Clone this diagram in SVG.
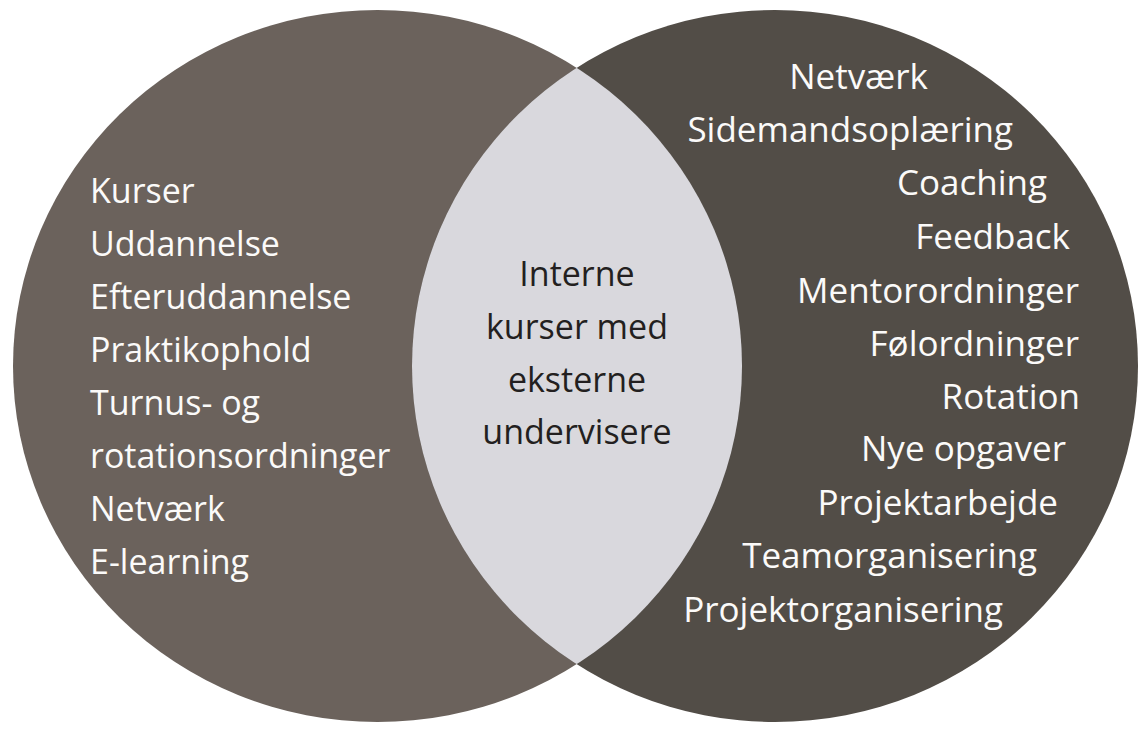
<svg xmlns="http://www.w3.org/2000/svg" width="1143" height="729" viewBox="0 0 1143 729">
<style>
text{font-family:"Open Sans","Noto Sans","Liberation Sans",sans-serif;font-size:34px}
.w{fill:#fbfaf9}
.d{fill:#231f20;text-anchor:middle}
.r{text-anchor:end}
.r text{font-size:35px}
</style>
<defs>
<clipPath id="clipL"><ellipse cx="377.5" cy="366" rx="364.5" ry="356"/></clipPath>
</defs>
<rect width="1143" height="729" fill="#ffffff"/>
<g id="left-circle">
<ellipse cx="377.5" cy="366" rx="364.5" ry="356" fill="#6b625c"/>
<g class="w">
<text x="90" y="203">Kurser</text>
<text x="90" y="256">Uddannelse</text>
<text x="90" y="309">Efteruddannelse</text>
<text x="90" y="362">Praktikophold</text>
<text x="90" y="415">Turnus- og</text>
<text x="90" y="468">rotationsordninger</text>
<text x="90" y="521">Netværk</text>
<text x="90" y="574">E-learning</text>
</g>
</g>
<g id="right-circle">
<ellipse cx="775" cy="366" rx="363" ry="356" fill="#524d47"/>
<g class="w r">
<text x="928" y="89">Netværk</text>
<text x="1013" y="142">Sidemandsoplæring</text>
<text x="1047" y="195">Coaching</text>
<text x="1070" y="249">Feedback</text>
<text x="1079" y="303">Mentorordninger</text>
<text x="1079" y="356">Følordninger</text>
<text x="1080" y="409">Rotation</text>
<text x="1066" y="461">Nye opgaver</text>
<text x="1058" y="515">Projektarbejde</text>
<text x="1037" y="568">Teamorganisering</text>
<text x="1003" y="622">Projektorganisering</text>
</g>
</g>
<g id="overlap">
<ellipse cx="775" cy="366" rx="363" ry="356" fill="#d9d8dd" clip-path="url(#clipL)"/>
<text class="d" x="577" y="286">Interne</text>
<text class="d" x="577" y="339">kurser med</text>
<text class="d" x="577" y="392">eksterne</text>
<text class="d" x="577" y="444">undervisere</text>
</g>
<g id="connectors"/>
</svg>
